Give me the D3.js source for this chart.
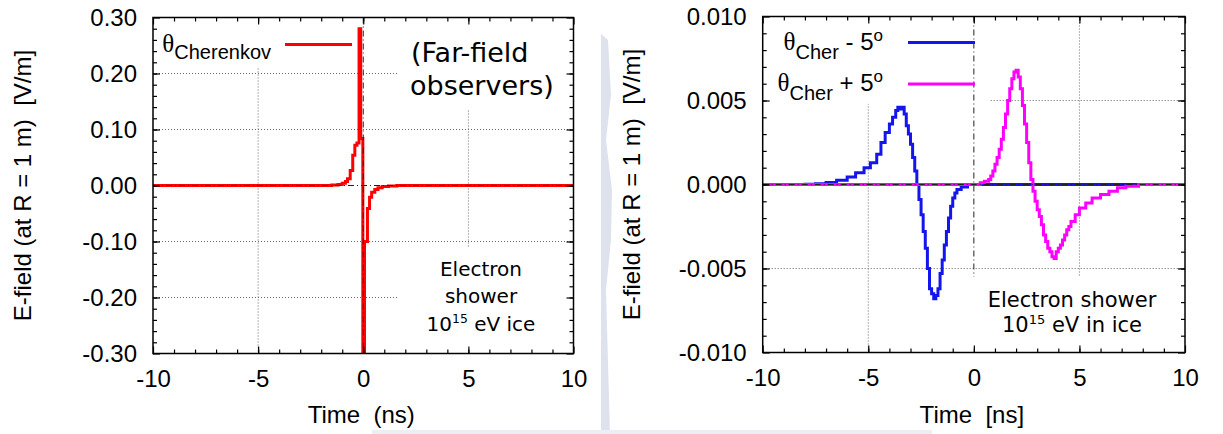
<!DOCTYPE html>
<meta charset="utf-8">
<style>
body{margin:0;background:#fff;}
svg{display:block;}
text{font-family:"Liberation Sans",Arial,sans-serif;fill:#000;}
.grid line{stroke:#666;stroke-width:1;stroke-dasharray:1,2;}
.zero{stroke:#222;stroke-width:1;stroke-dasharray:6,3,1,3;}
.note{font-family:"DejaVu Sans",sans-serif;}
.tick line{stroke:#000;}
</style>
<svg width="1223" height="434"></svg>
<script src="https://cdnjs.cloudflare.com/ajax/libs/d3/7.8.5/d3.min.js"></script>
<script>
var timeTicks = [-10, -5, 0, 5, 10];
var timeLabels = ["-10", "-5", "0", "5", "10"];
var leftTicks = [0.30, 0.20, 0.10, 0.00, -0.10, -0.20, -0.30];
var leftLabels = ["0.30", "0.20", "0.10", "0.00", "-0.10", "-0.20", "-0.30"];
var rightTicks = [0.010, 0.005, 0.000, -0.005, -0.010];
var rightLabels = ["0.010", "0.005", "0.000", "-0.005", "-0.010"];

// theta_Cherenkov: step start time (ns), field (V/m)
var cherT = [-10, -1.5, -1.2, -1.0, -0.85, -0.75, -0.62, -0.5, -0.4, -0.3, -0.2, -0.12, -0.02, 0.06, 0.2, 0.3, 0.4, 0.55, 0.7, 0.9, 1.2, 1.6, 10];
var cherE = [0, 0.001, 0.002, 0.004, 0.007, 0.012, 0.027, 0.054, 0.072, 0.076, 0.28, 0.084, -0.45, -0.10, -0.041, -0.021, -0.012, -0.007, -0.004, -0.002, -0.001, 0, 0];

// theta_Cher - 5 deg
var minusT = [-10, -8, -7.5, -7, -6.5, -6, -5.6, -5.2, -4.9, -4.6, -4.4, -4.2, -4.0, -3.85, -3.7, -3.6, -3.5, -3.4, -3.3, -3.2, -3.1, -3.0, -2.9, -2.8, -2.7, -2.6, -2.5, -2.4, -2.3, -2.2, -2.1, -2.0, -1.9, -1.8, -1.7, -1.6, -1.5, -1.4, -1.3, -1.2, -1.1, -1.0, -0.9, -0.8, -0.6, -0.3, 10];
var minusE = [0, 0.00002, 0.00005, 0.00012, 0.00025, 0.00045, 0.0007, 0.001, 0.0013, 0.0018, 0.0025, 0.0031, 0.0036, 0.0040, 0.0044, 0.0046, 0.0045, 0.0046, 0.0042, 0.0035, 0.0030, 0.0024, 0.0016, 0.0008, 0.0000, -0.0009, -0.0018, -0.0028, -0.0038, -0.0050, -0.0062, -0.0065, -0.0068, -0.0066, -0.0062, -0.0053, -0.0045, -0.0036, -0.0028, -0.0020, -0.0013, -0.0008, -0.0005, -0.0003, -0.00015, 0, 0];

// theta_Cher + 5 deg
var plusT = [-10, 0.3, 0.5, 0.7, 0.8, 0.9, 1.0, 1.1, 1.2, 1.3, 1.4, 1.5, 1.6, 1.7, 1.8, 1.9, 2.0, 2.1, 2.2, 2.3, 2.4, 2.5, 2.6, 2.7, 2.8, 2.9, 3.0, 3.1, 3.2, 3.3, 3.4, 3.5, 3.6, 3.7, 3.8, 3.9, 4.0, 4.1, 4.2, 4.3, 4.4, 4.5, 4.6, 4.8, 5.0, 5.3, 5.6, 6.0, 6.4, 6.8, 7.2, 7.8, 10];
var plusE = [0, 0.0001, 0.0002, 0.0003, 0.0005, 0.0008, 0.0012, 0.0016, 0.0021, 0.0027, 0.0034, 0.0042, 0.0050, 0.0057, 0.0063, 0.0067, 0.0068, 0.0064, 0.0057, 0.0047, 0.0036, 0.0025, 0.0013, 0.0003, -0.0004, -0.0010, -0.0015, -0.0019, -0.0024, -0.0030, -0.0034, -0.0038, -0.0040, -0.0043, -0.0044, -0.0040, -0.0038, -0.0036, -0.0033, -0.0030, -0.0027, -0.0025, -0.0022, -0.0018, -0.0014, -0.0011, -0.0008, -0.0006, -0.0004, -0.0002, -0.0001, 0, 0];

var svg = d3.select("svg");

// faint watermark behind the plots
var wm = svg.append("g").attr("fill", "#dde2ec");
wm.append("path").attr("d", "M601,34 L608,40 L611,95 L606,140 L612,190 L611,240 L606,290 L610,434 L601,434 Z");
wm.append("rect").attr("x", 372).attr("y", 430).attr("width", 560).attr("height", 4).attr("fill", "#eceef4");

function panel(cfg) {
  var x = d3.scaleLinear().domain([-10, 10]).range([cfg.x0, cfg.x1]);
  var y = d3.scaleLinear().domain([cfg.ticks[cfg.ticks.length - 1], cfg.ticks[0]]).range([cfg.y1, cfg.y0]);
  var g = svg.append("g");

  g.append("clipPath").attr("id", "clip" + cfg.id)
    .append("rect").attr("x", cfg.x0).attr("y", cfg.y0)
    .attr("width", cfg.x1 - cfg.x0).attr("height", cfg.y1 - cfg.y0);

  // dotted grid
  var grid = g.append("g").attr("class", "grid");
  grid.selectAll(".gv").data([-5, 5]).enter().append("line")
    .attr("x1", d => x(d)).attr("x2", d => x(d)).attr("y1", cfg.y0).attr("y2", cfg.y1);
  grid.selectAll(".gh").data(cfg.ticks.slice(1, -1).filter(d => d != 0)).enter().append("line")
    .attr("x1", cfg.x0).attr("x2", cfg.x1).attr("y1", d => y(d)).attr("y2", d => y(d));

  // opaque key / label boxes hide the grid
  g.selectAll(".box").data(cfg.boxes).enter().append("rect")
    .attr("fill", "#fff")
    .attr("x", d => x(d[0])).attr("width", d => x(d[1]) - x(d[0]))
    .attr("y", d => y(d[3])).attr("height", d => y(d[2]) - y(d[3]));

  // curves
  var line = d3.line().curve(d3.curveStepAfter);
  cfg.series.forEach(function(s) {
    g.append("path")
      .attr("clip-path", "url(#clip" + cfg.id + ")")
      .attr("d", line(s.t.map((t, i) => [x(t), y(s.e[i])])))
      .attr("fill", "none").attr("stroke", s.color).attr("stroke-width", 3)
      .attr("stroke-linejoin", "miter");
  });

  // zero axes
  g.append("line").attr("class", "zero")
    .attr("x1", cfg.x0).attr("x2", cfg.x1).attr("y1", y(0)).attr("y2", y(0));
  g.append("line").attr("class", "zero")
    .attr("x1", x(0)).attr("x2", x(0)).attr("y1", cfg.y0).attr("y2", y(cfg.zeroEnd));

  // key
  cfg.series.forEach(function(s, i) {
    g.append("line")
      .attr("x1", cfg.keyLine[0]).attr("x2", cfg.keyLine[1])
      .attr("y1", cfg.keyY[i]).attr("y2", cfg.keyY[i])
      .attr("stroke", s.color).attr("stroke-width", 3);
    var t = g.append("text").attr("x", cfg.keyText).attr("y", cfg.keyY[i] + 7)
      .attr("text-anchor", "end").style("white-space", "pre");
    t.append("tspan").attr("font-family", "Liberation Serif, serif").attr("font-size", 25).text("\u03b8");
    t.append("tspan").attr("font-size", 20).attr("dy", cfg.subDy).text(s.sub);
    if (s.rest) {
      t.append("tspan").attr("font-size", 24).attr("dy", -cfg.subDy).text(s.rest);
      t.append("tspan").attr("font-size", 17).attr("dy", -9).text("o");
    }
  });

  // frame, major and minor ticks on all sides
  function clean(a) {
    a.select(".domain").remove();
    a.attr("font-size", 24).attr("font-family", "Liberation Sans, Arial, sans-serif");
  }
  var fmtT = (d, i) => timeLabels[i];
  var fmtY = (d, i) => cfg.labels[i];
  var minorT = d3.range(-9, 10, 1);
  var ax = g.append("g");
  ax.append("g").attr("transform", "translate(0," + cfg.y1 + ")")
    .call(d3.axisBottom(x).tickValues(timeTicks).tickSizeInner(-7).tickSizeOuter(0).tickPadding(16).tickFormat(fmtT)).call(clean);
  ax.append("g").attr("transform", "translate(0," + cfg.y1 + ")")
    .call(d3.axisBottom(x).tickValues(minorT).tickSize(-4).tickFormat("")).call(clean);
  ax.append("g").attr("transform", "translate(0," + cfg.y0 + ")")
    .call(d3.axisTop(x).tickValues(timeTicks).tickSize(-7).tickFormat("")).call(clean);
  ax.append("g").attr("transform", "translate(0," + cfg.y0 + ")")
    .call(d3.axisTop(x).tickValues(minorT).tickSize(-4).tickFormat("")).call(clean);
  ax.append("g").attr("transform", "translate(" + cfg.x0 + ",0)")
    .call(d3.axisLeft(y).tickValues(cfg.ticks).tickSizeInner(-7).tickSizeOuter(0).tickPadding(16).tickFormat(fmtY)).call(clean);
  ax.append("g").attr("transform", "translate(" + cfg.x0 + ",0)")
    .call(d3.axisLeft(y).tickValues(cfg.minor).tickSize(-4).tickFormat("")).call(clean);
  ax.append("g").attr("transform", "translate(" + cfg.x1 + ",0)")
    .call(d3.axisRight(y).tickValues(cfg.ticks).tickSize(-7).tickFormat("")).call(clean);
  ax.append("g").attr("transform", "translate(" + cfg.x1 + ",0)")
    .call(d3.axisRight(y).tickValues(cfg.minor).tickSize(-4).tickFormat("")).call(clean);
  ax.selectAll(".tick text").attr("fill", "#000");
  ax.selectAll(".tick line").attr("stroke-width", 1.2);

  g.append("rect").attr("x", cfg.x0).attr("y", cfg.y0)
    .attr("width", cfg.x1 - cfg.x0).attr("height", cfg.y1 - cfg.y0)
    .attr("fill", "none").attr("stroke", "#000").attr("stroke-width", 1.5);

  // axis titles
  g.append("text").attr("x", (cfg.x0 + cfg.x1) / 2 - 2).attr("y", 423)
    .attr("text-anchor", "middle").attr("font-size", 24).style("white-space", "pre")
    .text(cfg.xTitle);
  g.append("text").attr("transform", "translate(" + cfg.yTitleX + "," + ((cfg.y0 + cfg.y1) / 2) + ") rotate(-90)")
    .attr("text-anchor", "middle").attr("font-size", 24).style("white-space", "pre")
    .text("E-field (at R = 1 m)  [V/m]");

  // annotation text
  cfg.notes.forEach(function(n) {
    var t = g.append("text").attr("class", "note").attr("x", n.x).attr("y", n.y)
      .attr("text-anchor", n.anchor).attr("font-size", n.size);
    if (n.sup) {
      t.append("tspan").text(n.text[0]);
      t.append("tspan").attr("font-size", n.size * 0.62).attr("dy", -n.size * 0.4).text(n.sup);
      t.append("tspan").attr("dy", n.size * 0.4).text(n.text[1]);
    } else {
      t.text(n.text);
    }
  });
}

panel({
  id: "L", x0: 153, x1: 573.5, y0: 17.5, y1: 353.5,
  ticks: leftTicks, labels: leftLabels, minor: d3.range(-0.28, 0.29, 0.02),
  zeroEnd: -0.30,
  boxes: [[-10, 1.7, 0.212, 0.30], [1.65, 10, 0.135, 0.30], [1.65, 10, -0.30, -0.111]],
  series: [{t: cherT, e: cherE, color: "#ff0000", sub: "Cherenkov"}],
  keyLine: [285, 352], keyY: [44.5], keyText: 271, subDy: 7,
  xTitle: "Time  (ns)", yTitleX: 31,
  notes: [
    {x: 411, y: 62, anchor: "start", size: 27, text: "(Far-field"},
    {x: 410, y: 95, anchor: "start", size: 27, text: "observers)"},
    {x: 481, y: 276, anchor: "middle", size: 20, text: "Electron"},
    {x: 481, y: 303, anchor: "middle", size: 20, text: "shower"},
    {x: 481, y: 331, anchor: "middle", size: 20, text: ["10", " eV ice"], sup: "15"}
  ]
});

panel({
  id: "R", x0: 762.7, x1: 1185, y0: 16.5, y1: 352.5,
  ticks: rightTicks, labels: rightLabels, minor: d3.range(-0.009, 0.0095, 0.001),
  zeroEnd: -0.0055,
  boxes: [[-10, 0.76, 0.0048, 0.010], [-0.2, 10, -0.010, -0.0055]],
  series: [
    {t: minusT, e: minusE, color: "#1414ee", sub: "Cher", rest: " - 5"},
    {t: plusT, e: plusE, color: "#ff00ff", sub: "Cher", rest: " + 5"}
  ],
  keyLine: [908, 975], keyY: [42.5, 84], keyText: 883, subDy: 9,
  xTitle: "Time  [ns]", yTitleX: 640,
  notes: [
    {x: 1072, y: 307, anchor: "middle", size: 21, text: "Electron shower"},
    {x: 1072, y: 332, anchor: "middle", size: 21, text: ["10", " eV in ice"], sup: "15"}
  ]
});
</script>
</html>
